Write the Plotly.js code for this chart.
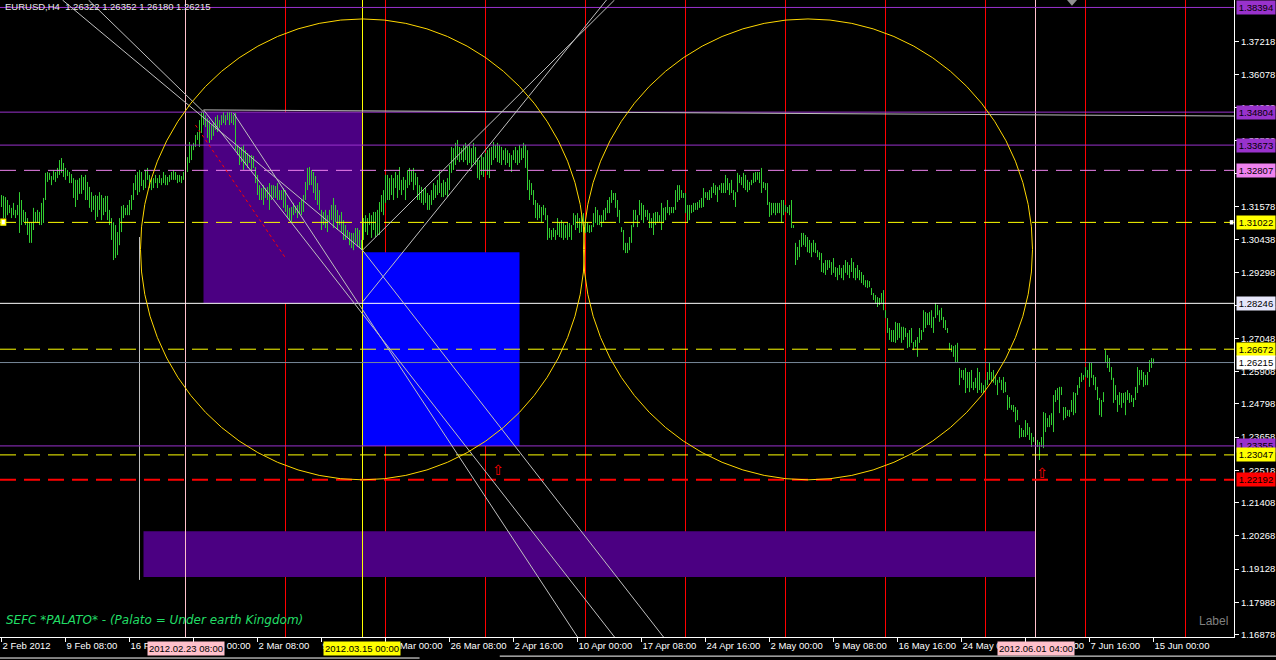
<!DOCTYPE html>
<html><head><meta charset="utf-8">
<script src="https://cdn.plot.ly/plotly-3.0.1.min.js"></script>
<style>html,body{margin:0;padding:0;background:#000;overflow:hidden}#chart{width:1276px;height:660px}</style>
</head><body><div id="chart"></div>
<script>
// EURUSD H4 bars (high / low), bar index 0 = 2 Feb 2012 00:00
const highs = [
1.3196,1.3193,1.3189,1.3179,1.3162,1.3152,1.3169,1.3145,1.3162,1.3206,
1.3179,1.3145,1.3138,1.3117,1.3103,1.3103,1.3152,1.3138,1.3145,1.3138,
1.3169,1.3186,1.3272,1.3275,1.3272,1.3261,1.3282,1.3275,1.3289,1.3316,
1.3323,1.3306,1.3289,1.3282,1.3275,1.3268,1.3254,1.3248,1.3248,1.3254,
1.3265,1.3258,1.3265,1.3241,1.3224,1.3206,1.3193,1.3196,1.3193,1.3206,
1.3196,1.3186,1.3193,1.3193,1.3145,1.3117,1.3103,1.3093,1.3069,1.3117,
1.3158,1.3162,1.3152,1.3162,1.3179,1.3196,1.3237,1.3265,1.3275,1.3282,
1.3275,1.3248,1.3282,1.3289,1.3265,1.3254,1.3254,1.3265,1.3254,1.3265,
1.3254,1.3275,1.3265,1.3258,1.3265,1.3275,1.3282,1.3275,1.3265,1.3265,
1.3261,1.3275,1.3326,1.3326,1.3378,1.3368,1.3375,1.3402,1.3412,1.3453,
1.3481,1.3481,1.3470,1.3460,1.3453,1.3436,1.3447,1.3464,1.3470,1.3453,
1.3470,1.3481,1.3470,1.3481,1.3481,1.3481,1.3470,1.3477,1.3368,1.3357,
1.3361,1.3368,1.3350,1.3340,1.3333,1.3333,1.3330,1.3292,1.3265,1.3230,
1.3220,1.3230,1.3220,1.3224,1.3237,1.3230,1.3230,1.3227,1.3237,1.3213,
1.3213,1.3220,1.3213,1.3162,1.3152,1.3155,1.3169,1.3158,1.3162,1.3172,
1.3179,1.3196,1.3241,1.3289,1.3292,1.3282,1.3275,1.3261,1.3237,1.3213,
1.3145,1.3138,1.3145,1.3127,1.3145,1.3162,1.3186,1.3162,1.3145,1.3127,
1.3138,1.3110,1.3093,1.3076,1.3069,1.3066,1.3066,1.3083,1.3083,1.3076,
1.3042,1.3117,1.3127,1.3117,1.3134,1.3127,1.3138,1.3138,1.3145,1.3172,
1.3196,1.3213,1.3265,1.3265,1.3254,1.3265,1.3254,1.3275,1.3265,1.3292,
1.3248,1.3258,1.3248,1.3282,1.3289,1.3282,1.3289,1.3272,1.3258,1.3230,
1.3224,1.3213,1.3220,1.3203,1.3196,1.3213,1.3237,1.3230,1.3248,1.3282,
1.3237,1.3248,1.3241,1.3254,1.3299,1.3361,1.3357,1.3375,1.3385,1.3361,
1.3357,1.3368,1.3375,1.3361,1.3368,1.3357,1.3375,1.3361,1.3323,1.3316,
1.3333,1.3326,1.3340,1.3350,1.3357,1.3361,1.3378,1.3368,1.3375,1.3368,
1.3361,1.3350,1.3357,1.3350,1.3340,1.3333,1.3350,1.3361,1.3350,1.3368,
1.3357,1.3375,1.3368,1.3350,1.3248,1.3237,1.3213,1.3179,1.3169,1.3162,
1.3155,1.3162,1.3152,1.3127,1.3083,1.3076,1.3083,1.3076,1.3117,1.3103,
1.3110,1.3100,1.3093,1.3103,1.3100,1.3093,1.3134,1.3127,1.3134,1.3117,
1.3127,1.3134,1.3110,1.3103,1.3093,1.3093,1.3134,1.3155,1.3145,1.3127,
1.3127,1.3145,1.3152,1.3179,1.3189,1.3213,1.3203,1.3203,1.3179,1.3145,
1.3086,1.3076,1.3032,1.3032,1.3052,1.3093,1.3145,1.3145,1.3127,1.3179,
1.3169,1.3162,1.3145,1.3145,1.3134,1.3117,1.3134,1.3138,1.3138,1.3127,
1.3169,1.3152,1.3155,1.3179,1.3155,1.3155,1.3155,1.3213,1.3230,1.3230,
1.3213,1.3203,1.3203,1.3162,1.3162,1.3162,1.3169,1.3169,1.3172,1.3179,
1.3186,1.3220,1.3206,1.3206,1.3213,1.3224,1.3237,1.3230,1.3224,1.3230,
1.3237,1.3237,1.3265,1.3254,1.3237,1.3248,1.3213,1.3206,1.3272,1.3265,
1.3258,1.3272,1.3265,1.3248,1.3241,1.3248,1.3272,1.3275,1.3275,1.3275,
1.3289,1.3241,1.3237,1.3237,1.3172,1.3169,1.3169,1.3169,1.3169,1.3169,
1.3179,1.3179,1.3162,1.3155,1.3162,1.3179,1.3093,1.3032,1.3018,1.3042,
1.3066,1.3066,1.3059,1.3052,1.3042,1.3032,1.3042,1.3032,1.3007,1.3000,
1.2997,1.2963,1.2973,1.2973,1.2973,1.2966,1.2980,1.2949,1.2946,1.2956,
1.2946,1.2956,1.2973,1.2966,1.2956,1.2980,1.2966,1.2946,1.2956,1.2939,
1.2932,1.2922,1.2904,1.2904,1.2901,1.2877,1.2860,1.2853,1.2846,1.2843,
1.2860,1.2870,1.2801,1.2774,1.2740,1.2733,1.2733,1.2761,1.2757,1.2757,
1.2744,1.2744,1.2740,1.2723,1.2733,1.2740,1.2692,1.2699,1.2709,1.2740,
1.2733,1.2801,1.2795,1.2791,1.2795,1.2801,1.2778,1.2826,1.2819,1.2801,
1.2809,1.2778,1.2767,1.2740,1.2689,1.2682,1.2678,1.2682,1.2689,1.2603,
1.2596,1.2596,1.2603,1.2589,1.2589,1.2596,1.2555,1.2569,1.2603,1.2589,
1.2552,1.2544,1.2562,1.2589,1.2623,1.2589,1.2596,1.2579,1.2562,1.2572,
1.2562,1.2572,1.2555,1.2510,1.2503,1.2476,1.2476,1.2469,1.2459,1.2407,
1.2397,1.2390,1.2424,1.2414,1.2400,1.2380,1.2366,1.2366,1.2356,1.2349,
1.2366,1.2452,1.2448,1.2431,1.2441,1.2448,1.2510,1.2527,1.2534,1.2538,
1.2538,1.2469,1.2469,1.2459,1.2459,1.2493,1.2520,1.2517,1.2544,1.2572,
1.2586,1.2579,1.2606,1.2596,1.2623,1.2620,1.2579,1.2572,1.2538,1.2500,
1.2493,1.2520,1.2664,1.2647,1.2637,1.2606,1.2569,1.2544,1.2510,1.2520,
1.2517,1.2517,1.2520,1.2527,1.2517,1.2510,1.2500,1.2538,1.2606,1.2596,
1.2596,1.2589,1.2579,1.2589,1.2630,1.2637,1.26352
];
const lows = [
1.3155,1.3117,1.3117,1.3127,1.3134,1.3117,1.3127,1.3117,1.3127,1.3066,
1.3093,1.3103,1.3093,1.3059,1.3032,1.3032,1.3076,1.3103,1.3100,1.3093,
1.3093,1.3100,1.3179,1.3241,1.3248,1.3230,1.3248,1.3241,1.3254,1.3265,
1.3272,1.3258,1.3248,1.3261,1.3237,1.3237,1.3186,1.3155,1.3179,1.3200,
1.3200,1.3213,1.3179,1.3179,1.3152,1.3138,1.3145,1.3110,1.3121,1.3145,
1.3110,1.3127,1.3138,1.3110,1.3093,1.3042,1.2973,1.2980,1.2990,1.3024,
1.3069,1.3117,1.3127,1.3127,1.3127,1.3145,1.3179,1.3213,1.3196,1.3206,
1.3227,1.3213,1.3220,1.3248,1.3220,1.3213,1.3220,1.3237,1.3220,1.3237,
1.3230,1.3237,1.3230,1.3230,1.3241,1.3248,1.3248,1.3248,1.3237,1.3241,
1.3237,1.3248,1.3272,1.3275,1.3306,1.3316,1.3350,1.3361,1.3385,1.3361,
1.3409,1.3436,1.3429,1.3392,1.3375,1.3385,1.3399,1.3419,1.3412,1.3426,
1.3436,1.3443,1.3436,1.3453,1.3436,1.3443,1.3436,1.3350,1.3333,1.3299,
1.3309,1.3282,1.3299,1.3289,1.3306,1.3282,1.3289,1.3237,1.3196,1.3179,
1.3179,1.3162,1.3186,1.3179,1.3145,1.3179,1.3186,1.3186,1.3179,1.3179,
1.3179,1.3152,1.3138,1.3117,1.3110,1.3103,1.3127,1.3134,1.3117,1.3134,
1.3127,1.3138,1.3179,1.3213,1.3230,1.3230,1.3203,1.3179,1.3162,1.3145,
1.3076,1.3093,1.3083,1.3069,1.3103,1.3110,1.3083,1.3103,1.3076,1.3093,
1.3069,1.3042,1.3042,1.3049,1.3024,1.3014,1.3007,1.3032,1.3018,1.3014,
1.3007,1.3042,1.3069,1.3059,1.3093,1.3049,1.3076,1.3052,1.3059,1.3059,
1.3138,1.3127,1.3169,1.3179,1.3179,1.3196,1.3179,1.3220,1.3186,1.3213,
1.3196,1.3213,1.3179,1.3220,1.3230,1.3241,1.3213,1.3230,1.3179,1.3179,
1.3169,1.3162,1.3169,1.3145,1.3145,1.3162,1.3179,1.3186,1.3196,1.3203,
1.3189,1.3189,1.3196,1.3189,1.3213,1.3272,1.3282,1.3299,1.3316,1.3309,
1.3316,1.3309,1.3316,1.3299,1.3306,1.3292,1.3306,1.3299,1.3254,1.3248,
1.3265,1.3258,1.3282,1.3265,1.3254,1.3299,1.3316,1.3323,1.3309,1.3306,
1.3299,1.3316,1.3299,1.3306,1.3292,1.3275,1.3316,1.3306,1.3299,1.3306,
1.3316,1.3323,1.3289,1.3213,1.3179,1.3196,1.3162,1.3117,1.3110,1.3117,
1.3103,1.3127,1.3110,1.3042,1.3049,1.3042,1.3052,1.3042,1.3059,1.3052,
1.3049,1.3042,1.3049,1.3042,1.3052,1.3042,1.3093,1.3076,1.3083,1.3066,
1.3069,1.3069,1.3066,1.3069,1.3066,1.3069,1.3086,1.3100,1.3093,1.3093,
1.3086,1.3103,1.3110,1.3134,1.3134,1.3169,1.3179,1.3152,1.3121,1.3100,
1.3069,1.3007,1.2997,1.2997,1.3007,1.3032,1.3086,1.3110,1.3086,1.3127,
1.3110,1.3100,1.3121,1.3110,1.3083,1.3083,1.3059,1.3093,1.3100,1.3103,
1.3076,1.3100,1.3110,1.3134,1.3127,1.3134,1.3134,1.3145,1.3172,1.3179,
1.3186,1.3186,1.3134,1.3103,1.3110,1.3134,1.3138,1.3145,1.3145,1.3152,
1.3152,1.3155,1.3186,1.3179,1.3179,1.3186,1.3203,1.3196,1.3172,1.3213,
1.3203,1.3203,1.3203,1.3213,1.3196,1.3203,1.3179,1.3155,1.3206,1.3237,
1.3230,1.3220,1.3213,1.3206,1.3213,1.3230,1.3237,1.3241,1.3248,1.3237,
1.3203,1.3220,1.3213,1.3162,1.3121,1.3127,1.3134,1.3127,1.3134,1.3134,
1.3100,1.3127,1.3138,1.3134,1.3127,1.3083,1.3083,1.2956,1.2973,1.2983,
1.3018,1.3024,1.3018,1.3000,1.2997,1.2983,1.3000,1.2997,1.2983,1.2973,
1.2932,1.2929,1.2922,1.2939,1.2946,1.2922,1.2929,1.2915,1.2904,1.2922,
1.2911,1.2904,1.2929,1.2922,1.2911,1.2932,1.2911,1.2904,1.2911,1.2904,
1.2894,1.2887,1.2880,1.2877,1.2880,1.2853,1.2836,1.2826,1.2812,1.2819,
1.2826,1.2801,1.2774,1.2723,1.2699,1.2692,1.2692,1.2689,1.2699,1.2706,
1.2689,1.2699,1.2709,1.2671,1.2675,1.2689,1.2664,1.2675,1.2641,1.2689,
1.2699,1.2726,1.2740,1.2750,1.2750,1.2740,1.2723,1.2774,1.2784,1.2761,
1.2767,1.2740,1.2733,1.2723,1.2664,1.2658,1.2641,1.2620,1.2623,1.2544,
1.2569,1.2562,1.2517,1.2534,1.2520,1.2534,1.2527,1.2534,1.2517,1.2527,
1.2517,1.2517,1.2527,1.2544,1.2562,1.2555,1.2552,1.2544,1.2510,1.2552,
1.2527,1.2517,1.2520,1.2459,1.2466,1.2459,1.2452,1.2417,1.2424,1.2362,
1.2366,1.2366,1.2366,1.2373,1.2356,1.2332,1.2349,1.2332,1.2332,1.2287,
1.2332,1.2328,1.2383,1.2400,1.2400,1.2407,1.2383,1.2486,1.2493,1.2448,
1.2510,1.2424,1.2431,1.2438,1.2435,1.2452,1.2441,1.2448,1.2510,1.2534,
1.2555,1.2562,1.2572,1.2569,1.2538,1.2569,1.2544,1.2527,1.2493,1.2441,
1.2435,1.2486,1.2620,1.2603,1.2589,1.2562,1.2483,1.2493,1.2452,1.2476,
1.2466,1.2483,1.2441,1.2493,1.2483,1.2486,1.2469,1.2493,1.2517,1.2544,
1.2562,1.2538,1.2544,1.2544,1.2589,1.2603,1.26180
];
const tickBars = [0,32,64,96,128,160,192,224,256,288,320,352,384,416,448,480,512,544,576];
const tickLabels = ["2 Feb 2012","9 Feb 08:00","16 Feb 16:00","24 Feb 00:00","2 Mar 08:00","9 Mar 16:00","19 Mar 00:00","26 Mar 08:00","2 Apr 16:00","10 Apr 00:00","17 Apr 08:00","24 Apr 16:00","2 May 00:00","9 May 08:00","16 May 16:00","24 May 00:00","31 May 08:00","7 Jun 16:00","15 Jun 00:00"];
const priceTicks = [1.37218,1.36078,1.34960,1.33820,1.32700,1.31578,1.30438,1.29298,1.28158,1.27048,1.25908,1.24798,1.23658,1.22518,1.21408,1.20268,1.19128,1.17988,1.16878];
const priceTickLabels = ["1.37218","1.36078","1.34960","1.33820","1.32700","1.31578","1.30438","1.29298","1.28158","1.27048","1.25908","1.24798","1.23658","1.22518","1.21408","1.20268","1.19128","1.17988","1.16878"];
const levelPrices = [1.38394,1.34804,1.33673,1.32807,1.31022,1.28246,1.26672,1.26215,1.23355,1.23047,1.22192];
const levelLabels = ["1.38394","1.34804","1.33673","1.32807","1.31022","1.28246","1.26672","1.26215","1.23355","1.23047","1.22192"];
const markerBars = [92,180,517];
const markerLabels = ["2012.02.23 08:00","2012.03.15 00:00","2012.06.01 04:00"];

const FONT = "Liberation Sans, Arial, sans-serif";
const bx = [], by = [];
for (let i = 0; i < highs.length; i++) { bx.push(i, i, null); by.push(lows[i], highs[i], null); }

const trace = {type:'scatter', mode:'lines', x:bx, y:by, line:{color:'#32CD32', width:1}, hoverinfo:'skip', connectgaps:false};

const levelStyle = [
  {c:'#9932CC', d:'solid', w:1, bg:'#9932CC'},
  {c:'#9932CC', d:'solid', w:1, bg:'#9932CC'},
  {c:'#9932CC', d:'solid', w:1, bg:'#9932CC'},
  {c:'#EE82EE', d:'16px,8px', w:1, bg:'#EE82EE'},
  {c:'#FFFF00', d:'16px,8px', w:1, bg:'#FFFF00'},
  {c:'#FFFFFF', d:'solid', w:1, bg:'#E6E6FA'},
  {c:'#FFFF00', d:'16px,8px', w:1, bg:'#FFFF00'},
  {c:'#778899', d:'solid', w:1, bg:'#FFFFFF'},
  {c:'#9932CC', d:'solid', w:1, bg:'#9932CC'},
  {c:'#FFFF00', d:'16px,8px', w:1, bg:'#FFFF00'},
  {c:'#FF0000', d:'16px,8px', w:2, bg:'#FF0000'}
];

const shapes = [];
shapes.push({type:'rect', layer:'below', xref:'x', yref:'y', x0:71, x1:517, y0:1.1886, y1:1.2043, fillcolor:'#4B0082', line:{width:0}});
shapes.push({type:'rect', layer:'below', xref:'x', yref:'y', x0:101, x1:180.5, y0:1.28246, y1:1.34804, fillcolor:'#4B0082', line:{width:0}});
shapes.push({type:'rect', layer:'below', xref:'x', yref:'y', x0:180.5, x1:259, y0:1.23355, y1:1.3000, fillcolor:'#0000FF', line:{width:0}});
[142,192,242,292,342,392,442,492,542,592].forEach(b => shapes.push({type:'line', layer:'below', xref:'x', yref:'paper', x0:b, x1:b, y0:0, y1:1, line:{color:'#FF0000', width:1}}));
shapes.push({type:'line', xref:'x', yref:'paper', x0:92, x1:92, y0:0, y1:1, line:{color:'#FFC0CB', width:1}});
shapes.push({type:'line', xref:'x', yref:'paper', x0:180.5, x1:180.5, y0:0, y1:1, line:{color:'#FFFF00', width:1}});
shapes.push({type:'line', xref:'x', yref:'paper', x0:517, x1:517, y0:0, y1:1, line:{color:'#FFC0CB', width:1}});
shapes.push({type:'line', xref:'x', yref:'y', x0:69, x1:69, y0:1.3052, y1:1.1876, line:{color:'#C0C0C0', width:1}});
levelPrices.forEach((p, k) => {
  const s = levelStyle[k];
  shapes.push({type:'line', xref:'paper', yref:'y', x0:0, x1:1, y0:p, y1:p, line:{color:s.c, width:s.w, dash:s.d}});
});
const tl = (x0,y0,x1,y1,c,d) => shapes.push({type:'line', xref:'x', yref:'y', x0, y0, x1, y1, line:{color:c||'#C0C0C0', width:1, dash:d||'solid'}});
tl(101,1.3488,616.5,1.3467);
tl(30.5,1.3865,180.5,1.3007);
tl(43.5,1.3865,101,1.3481);
tl(116,1.3477,288,1.1680);
tl(101,1.3488,306.5,1.1680);
tl(180.5,1.3007,331,1.1680);
tl(180.5,1.2829,302.5,1.3865);
tl(180.5,1.3007,306.5,1.3865);
tl(97,1.3436,142,1.2980,'#FF0000','dot');
shapes.push({type:'circle', xref:'x', yref:'y', x0:69.5, x1:291.5, y0:1.22192, y1:1.3800, line:{color:'#FFD700', width:1}});
shapes.push({type:'circle', xref:'x', yref:'y', x0:291, x1:515.5, y0:1.22192, y1:1.3800, line:{color:'#FFD700', width:1}});
shapes.push({type:'rect', xref:'paper', yref:'y', x0:0.0008, x1:0.0045, y0:1.3093, y1:1.3113, fillcolor:'#FFFFFF', line:{color:'#FFFF00', width:1.5}});
shapes.push({type:'rect', xref:'paper', yref:'y', x0:0.9966, x1:0.9995, y0:1.3095, y1:1.3110, fillcolor:'#FFFFFF', line:{width:0}});
shapes.push({type:'path', xref:'paper', yref:'paper', path:'M 0.8647 1 L 0.8728 1 L 0.8687 0.991 Z', fillcolor:'#909090', line:{width:0}});
shapes.push({type:'line', xref:'paper', yref:'paper', x0:0, x1:0.34, y0:-0.0330, y1:-0.0330, line:{color:'#FFFFFF', width:1}});
shapes.push({type:'line', xref:'paper', yref:'paper', x0:0.405, x1:1.04, y0:-0.0300, y1:-0.0300, line:{color:'#FFFFFF', width:1}});

const annotations = [];
levelPrices.forEach((p, k) => {
  annotations.push({xref:'paper', yref:'y', x:1, y:p, xanchor:'left', yanchor:'middle', xshift:2, text:levelLabels[k], showarrow:false,
    font:{family:FONT, size:9.5, color:'#000000'}, bgcolor:levelStyle[k].bg, borderpad:1, width:36});
});
const markerBg = ['#FFC0CB','#FFFF00','#FFC0CB'];
markerBars.forEach((b, k) => {
  annotations.push({xref:'x', yref:'paper', x:b, y:0, xanchor:'center', yanchor:'top', yshift:-4, text:markerLabels[k], showarrow:false,
    font:{family:FONT, size:9.5, color:'#000000'}, bgcolor:markerBg[k], borderpad:1});
});
annotations.push({xref:'paper', yref:'paper', x:0, y:1, xanchor:'left', yanchor:'top', xshift:3, yshift:1, showarrow:false,
  text:'EURUSD,H4\u00a0\u00a01.26322 1.26352 1.26180 1.26215', font:{family:FONT, size:9.5, color:'#E8E8E8'}});
annotations.push({xref:'paper', yref:'paper', x:0, y:0, xanchor:'left', yanchor:'bottom', xshift:4, yshift:8, showarrow:false,
  text:'SEFC *PALATO* - (Palato = Under earth Kingdom)', font:{family:'DejaVu Sans', size:12, color:'#22DD66', style:'italic'}});
annotations.push({xref:'paper', yref:'paper', x:1, y:0, xanchor:'right', yanchor:'bottom', xshift:-4, yshift:7, showarrow:false,
  text:'Label', font:{family:FONT, size:12, color:'#808080'}});
annotations.push({xref:'x', yref:'y', x:248, y:1.2253, showarrow:false, text:'\u21E7', font:{family:'DejaVu Sans', size:14, color:'#FF0000'}});
annotations.push({xref:'x', yref:'y', x:520, y:1.2243, showarrow:false, text:'\u21E7', font:{family:'DejaVu Sans', size:14, color:'#FF0000'}});

const layout = {
  width:1276, height:660, margin:{l:0, r:42, t:0, b:23, pad:0},
  paper_bgcolor:'#000000', plot_bgcolor:'#000000', showlegend:false,
  xaxis:{range:[-0.75,616.25], showgrid:false, zeroline:false, showline:true, linecolor:'#FFFFFF', linewidth:1,
    ticks:'outside', ticklen:4, tickcolor:'#FFFFFF', tickmode:'array', tickvals:tickBars, ticktext:tickLabels, tickangle:0,
    ticklabelposition:'outside right', ticklabeloverflow:'allow', tickfont:{family:FONT, size:9.5, color:'#FFFFFF'}, fixedrange:true},
  yaxis:{range:[1.16801,1.3865], side:'right', showgrid:false, zeroline:false, showline:true, linecolor:'#FFFFFF', linewidth:1,
    ticks:'outside', ticklen:4, tickcolor:'#FFFFFF', tickmode:'array', tickvals:priceTicks, ticktext:priceTickLabels,
    tickfont:{family:FONT, size:9.5, color:'#FFFFFF'}, fixedrange:true},
  shapes, annotations
};
Plotly.newPlot('chart', [trace], layout, {staticPlot:true, displayModeBar:false});
</script></body></html>
